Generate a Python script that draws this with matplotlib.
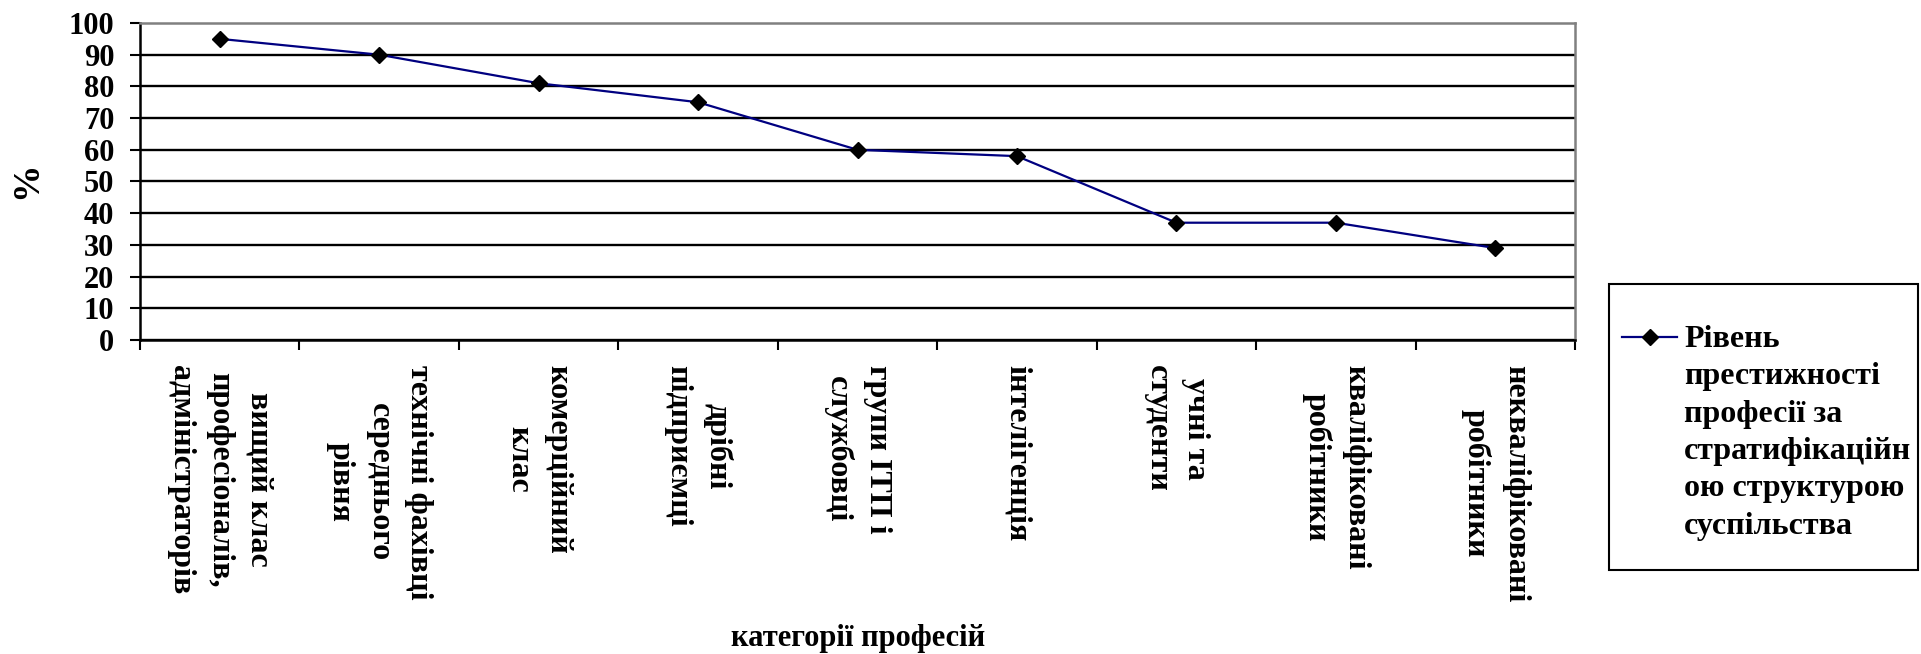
import matplotlib.pyplot as plt
from matplotlib.lines import Line2D
from matplotlib.patches import Rectangle

plt.rcParams['font.family'] = ['Liberation Serif', 'DejaVu Serif']
plt.rcParams['font.weight'] = 'bold'

# data
categories = [
    'вищий клас\nпрофесіоналів,\nадміністраторів',
    'технічні фахівці\nсереднього\nрівня',
    'комерційний\nклас',
    'дрібні\nпідприємці',
    'групи ІТП і\nслужбовці',
    'інтелігенція',
    'учні та\nстуденти',
    'кваліфіковані\nробітники',
    'некваліфіковані\nробітники',
]
values = [95, 90, 81, 75, 60, 58, 37, 37, 29]
yticks = list(range(0, 101, 10))
series_label = 'Рівень\nпрестижності\nпрофесії за\nстратифікаційн\nою структурою\nсуспільства'

W, H = 1921, 654
fig = plt.figure(figsize=(W / 100, H / 100), dpi=100)
fig.patch.set_facecolor('white')

# plot area in pixels: x 140..1575, y 23..340
ax = fig.add_axes([140 / W, 1 - 340 / H, 1435 / W, 317 / H])

x = list(range(len(values)))
navy = '#000080'
ax.plot(x, values, color=navy, lw=1.6, marker='D', markersize=8.5,
        markerfacecolor='black', markeredgecolor='black', zorder=3)

ax.set_xlim(-0.5, len(values) - 0.5)
ax.set_ylim(0, 100)
ax.set_yticks(yticks)
ax.yaxis.grid(True, color='black', lw=1.7)
ax.get_ygridlines()[-1].set_visible(False)
ax.set_axisbelow(True)

# ticks between categories, labels at category centres
ax.set_xticks([i - 0.5 for i in range(len(values) + 1)])
ax.set_xticklabels([])
ax.set_xticks(x, categories, minor=True)
ax.tick_params(axis='x', which='major', direction='out', length=7.5, width=1.5, color='black')
ax.tick_params(axis='x', which='minor', length=0, pad=18, labelsize=23, labelrotation=270)
for lbl in ax.get_xticklabels(minor=True):
    lbl.set_multialignment('center')
    lbl.set_fontweight('bold')
    lbl.set_linespacing(1.45)
ax.tick_params(axis='y', direction='out', length=7.5, width=1.5, pad=11, labelsize=22)

for side in ['left', 'bottom']:
    ax.spines[side].set_color('black')
    ax.spines[side].set_linewidth(1.8)
for side in ['top', 'right']:
    ax.spines[side].set_color('#808080')
    ax.spines[side].set_linewidth(1.8)

fig.text(27 / W, 1 - 180 / H, '%', rotation=90, ha='center', va='center', fontsize=27)
fig.text(858 / W, 1 - 646 / H, 'категорії професій', ha='center', va='baseline', fontsize=22)

# legend box
fig.add_artist(Rectangle((1609 / W, 1 - 570 / H), 309 / W, 286 / H, transform=fig.transFigure,
                         fill=False, edgecolor='black', lw=1.5))
fig.add_artist(Line2D([1622 / W, 1650 / W, 1677 / W], [1 - 337 / H] * 3, transform=fig.transFigure,
                      color=navy, lw=1.6, marker='D', markersize=8.5, markevery=[1],
                      markerfacecolor='black', markeredgecolor='black'))
fig.text(1684 / W, 1 - 325 / H, series_label, ha='left', va='top', fontsize=23, linespacing=1.38)

fig.savefig('out.png', dpi=100)
